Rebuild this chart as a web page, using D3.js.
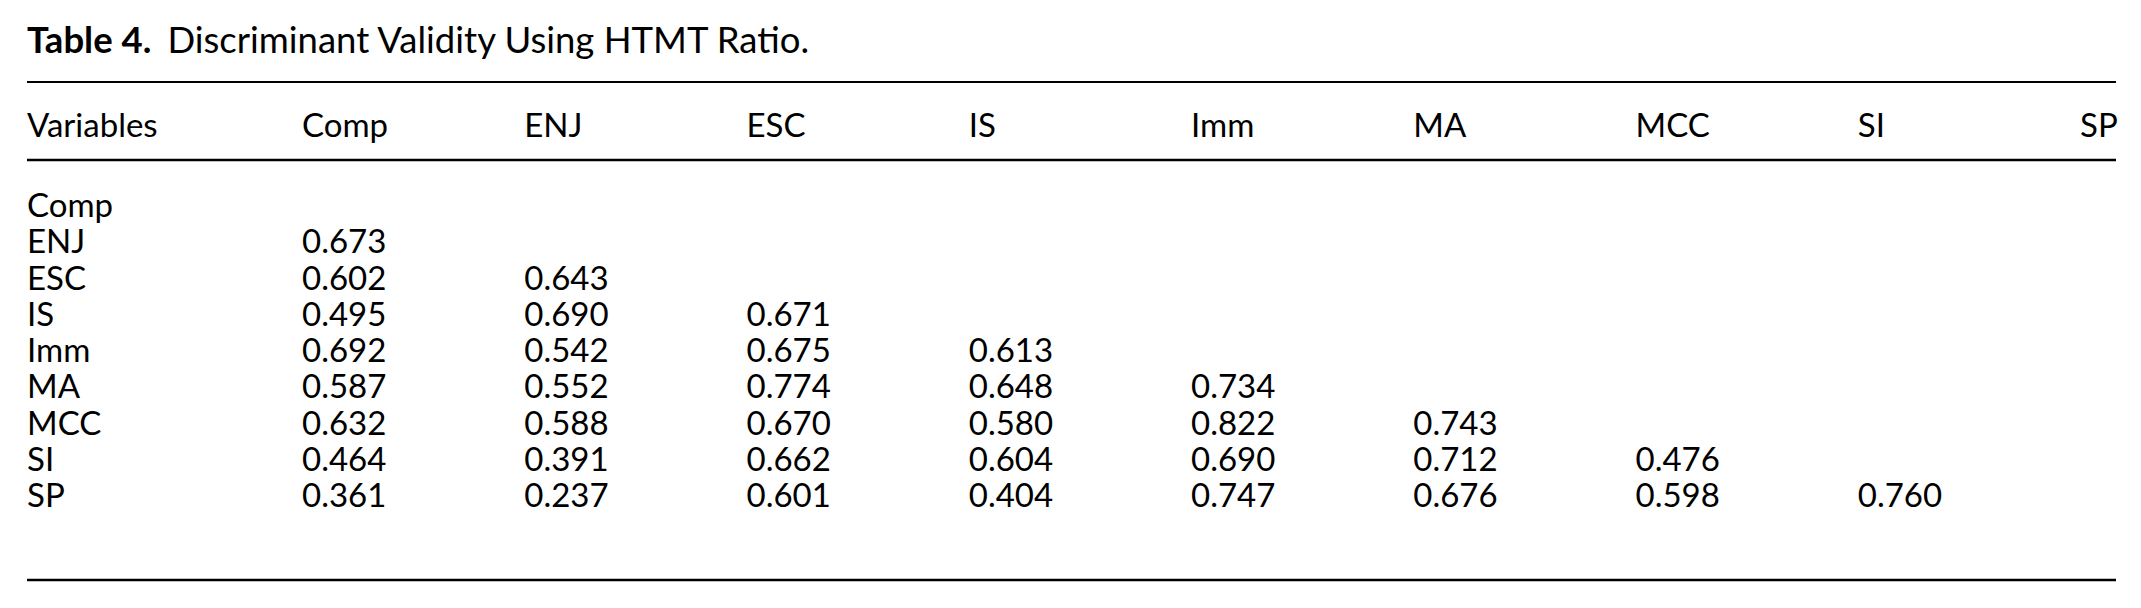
<!DOCTYPE html>
<html lang="en">
<head>
  <meta charset="utf-8">
  <title>Table 4. Discriminant Validity Using HTMT Ratio</title>
  <script src="https://d3js.org/d3.v7.min.js"></script>
  <style>
    html, body { margin:0; padding:0; background:#fff; }
    svg { display:block; font-family: Lato, "Noto Sans", sans-serif; }
  </style>
</head>
<body>
  <div id="chart"></div>
  <script>
    // ─── Data ────────────────────────────────────────────────────────────────
    const titleBold = "Table 4.";
    const titleText = "Discriminant Validity Using HTMT Ratio.";
    const firstHeader = "Variables";
    const variables = ["Comp", "ENJ", "ESC", "IS", "Imm", "MA", "MCC", "SI", "SP"];
    // lower triangle, one array per row (row i has i values)
    const htmtValues = [
      [],
      [0.673],
      [0.602, 0.643],
      [0.495, 0.690, 0.671],
      [0.692, 0.542, 0.675, 0.613],
      [0.587, 0.552, 0.774, 0.648, 0.734],
      [0.632, 0.588, 0.670, 0.580, 0.822, 0.743],
      [0.464, 0.391, 0.662, 0.604, 0.690, 0.712, 0.476],
      [0.361, 0.237, 0.601, 0.404, 0.747, 0.676, 0.598, 0.760]
    ];
    // ─────────────────────────────────────────────────────────────────────────

    const width = 2141, height = 608;
    const left = 27, right = 2116;
    const fontSize = 33;

    const svg = d3.select("#chart").append("svg")
      .attr("width", width)
      .attr("height", height);

    svg.append("rect").attr("width", width).attr("height", height).attr("fill", "#fff");

    // columns: first label column, then one per variable
    const x = d3.scalePoint()
      .domain(variables)
      .range([302, 2080]);

    // rows
    const y = d3.scalePoint()
      .domain(variables)
      .range([217, 507]);

    const fmt = d3.format(".3f");

    // Title
    const title = svg.append("text")
      .attr("x", left).attr("y", 53)
      .style("font-size", "36.5px")
      .attr("fill", "#000");
    title.append("tspan").attr("font-weight", "bold").text(titleBold);
    title.append("tspan").attr("dx", 16).text(titleText);

    // Rules
    const rules = [
      { y: 82, w: 2.2 },
      { y: 160, w: 2.6 },
      { y: 580, w: 2.6 }
    ];
    svg.selectAll("line.rule")
      .data(rules)
      .join("line")
        .attr("class", "rule")
        .attr("x1", left).attr("x2", right)
        .attr("y1", d => d.y).attr("y2", d => d.y)
        .attr("stroke", "#000")
        .attr("stroke-width", d => d.w);

    // Header
    const header = svg.append("g").style("font-size", fontSize + "px");
    header.append("text")
      .attr("x", left).attr("y", 137)
      .text(firstHeader);
    header.selectAll("text.col")
      .data(variables)
      .join("text")
        .attr("class", "col")
        .attr("x", d => x(d))
        .attr("y", 137)
        .text(d => d);

    // Body
    const body = svg.append("g").style("font-size", fontSize + "px");
    body.selectAll("text.rowlab")
      .data(variables)
      .join("text")
        .attr("class", "rowlab")
        .attr("x", left)
        .attr("y", d => y(d))
        .text(d => d);

    const cells = htmtValues.flatMap((vals, i) =>
      vals.map((v, j) => ({ row: variables[i], col: variables[j], value: v })));

    body.selectAll("text.cell")
      .data(cells)
      .join("text")
        .attr("class", "cell")
        .attr("x", d => x(d.col))
        .attr("y", d => y(d.row))
        .text(d => fmt(d.value));
  </script>
</body>
</html>
